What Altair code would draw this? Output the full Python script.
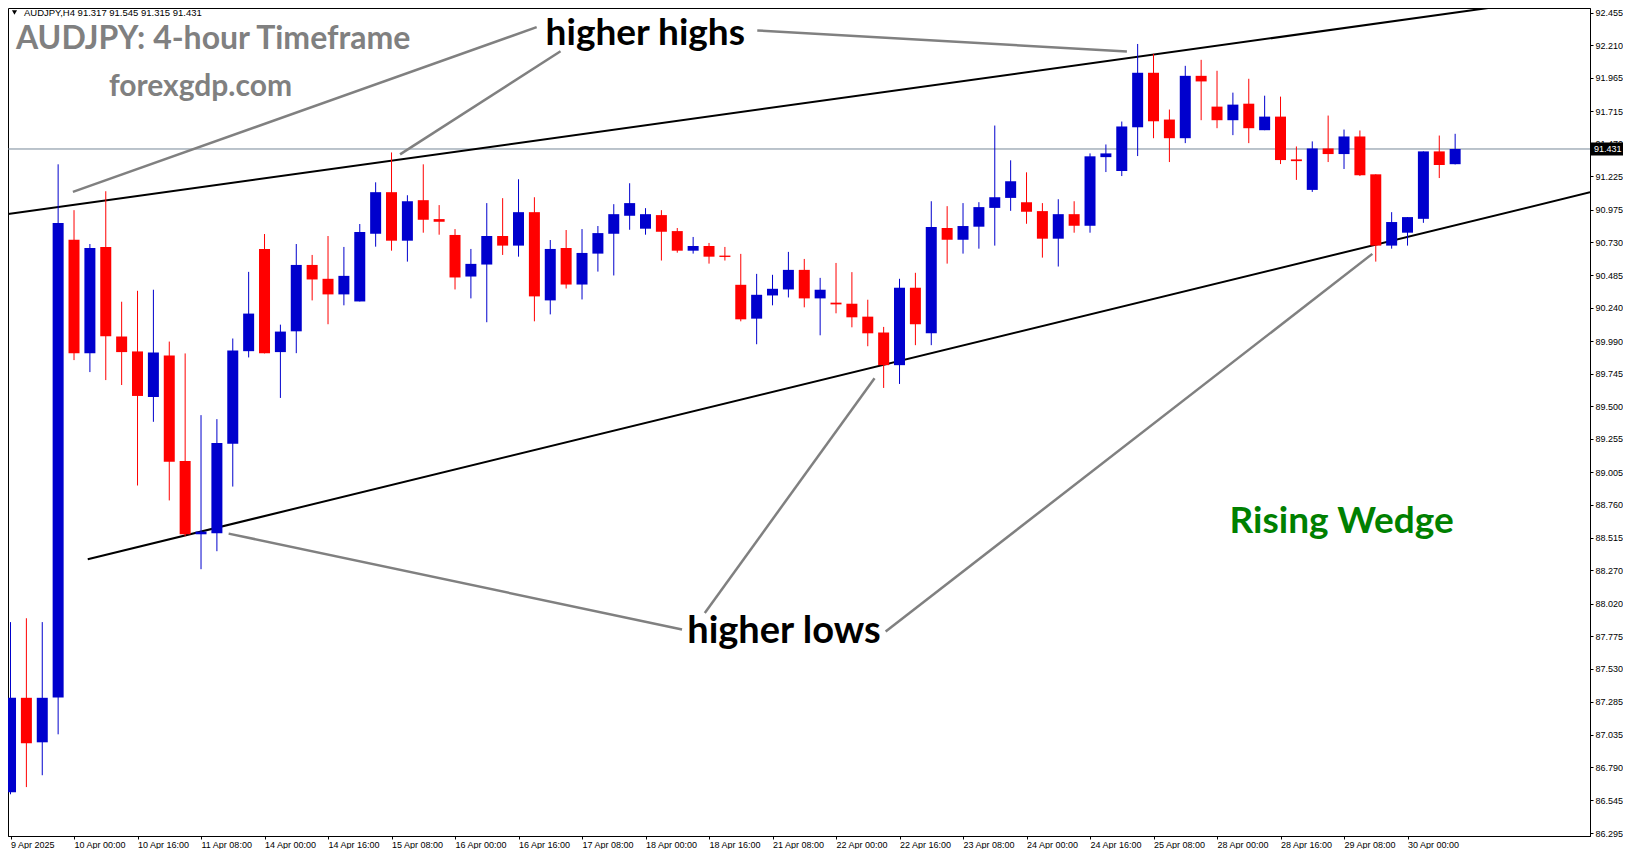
import altair as alt
import pandas as pd

# ---- candle data (AUDJPY H4, 9 Apr 08:00 -> 30 Apr 12:00) ----
opens = [86.604, 87.313, 86.979, 87.315, 90.750, 89.899, 90.696, 90.024, 89.912, 89.570,
         89.882, 89.090, 88.540, 88.547, 89.219, 89.914, 90.681, 89.907, 90.063, 90.561,
         90.457, 90.340, 90.287, 90.795, 91.107, 90.743, 91.047, 90.905, 90.786, 90.474,
         90.564, 90.778, 90.706, 90.957, 90.295, 90.688, 90.414, 90.646, 90.795, 90.930,
         90.833, 90.935, 90.815, 90.668, 90.703, 90.631, 90.412, 90.158, 90.332, 90.377,
         90.524, 90.310, 90.278, 90.270, 90.173, 90.054, 89.809, 90.390, 90.048, 90.838,
         90.750, 90.848, 90.989, 91.064, 91.032, 90.965, 90.758, 90.942, 90.855, 91.370,
         91.266, 91.594, 92.003, 91.652, 91.512, 91.980, 91.749, 91.647, 91.771, 91.572,
         91.674, 91.353, 91.124, 91.435, 91.393, 91.525, 91.241, 90.706, 90.803, 90.907,
         91.413, 91.317]
highs = [87.881, 87.910, 87.881, 91.316, 90.972, 90.718, 91.114, 90.285, 90.367, 90.375,
         89.986, 89.897, 89.434, 89.404, 90.009, 90.509, 90.793, 90.113, 90.718, 90.636,
         90.778, 90.696, 90.868, 91.181, 91.405, 91.084, 91.316, 91.010, 90.830, 90.681,
         91.025, 91.062, 91.204, 91.069, 90.748, 90.823, 90.830, 90.853, 91.017, 91.174,
         90.987, 90.972, 90.838, 90.771, 90.726, 90.696, 90.644, 90.494, 90.487, 90.659,
         90.606, 90.464, 90.576, 90.507, 90.300, 90.096, 90.457, 90.502, 91.039, 91.002,
         91.025, 91.032, 91.607, 91.346, 91.256, 91.025, 91.054, 91.039, 91.398, 91.465,
         91.637, 92.219, 92.145, 91.727, 92.055, 92.100, 92.018, 91.854, 91.958, 91.831,
         91.824, 91.450, 91.488, 91.682, 91.577, 91.570, 91.241, 90.957, 90.920, 91.413,
         91.532, 91.545]
lows = [86.589, 86.643, 86.732, 87.039, 89.847, 89.757, 89.697, 89.660, 88.906, 89.384,
        88.794, 88.526, 88.278, 88.413, 88.898, 89.867, 89.897, 89.563, 89.899, 90.295,
        90.116, 90.258, 90.287, 90.698, 90.668, 90.586, 90.803, 90.788, 90.377, 90.310,
        90.131, 90.636, 90.623, 90.138, 90.190, 90.384, 90.302, 90.511, 90.482, 90.825,
        90.788, 90.594, 90.653, 90.646, 90.571, 90.594, 90.138, 89.966, 90.258, 90.317,
        90.243, 90.033, 90.198, 90.093, 89.951, 89.638, 89.668, 89.959, 89.959, 90.571,
        90.646, 90.683, 90.706, 90.967, 90.870, 90.616, 90.549, 90.803, 90.803, 91.258,
        91.228, 91.378, 91.512, 91.333, 91.475, 91.647, 91.587, 91.535, 91.475, 91.572,
        91.318, 91.199, 91.109, 91.333, 91.281, 91.228, 90.586, 90.683, 90.706, 90.877,
        91.213, 91.315]
closes = [87.313, 86.972, 87.313, 90.875, 89.899, 90.688, 90.026, 89.907, 89.578, 89.904,
          89.085, 88.540, 88.560, 89.225, 89.919, 90.196, 89.899, 90.061, 90.561, 90.452,
          90.340, 90.479, 90.808, 91.107, 90.743, 91.039, 90.900, 90.885, 90.467, 90.569,
          90.778, 90.706, 90.957, 90.325, 90.681, 90.414, 90.651, 90.800, 90.942, 91.025,
          90.942, 90.810, 90.668, 90.703, 90.623, 90.621, 90.153, 90.337, 90.382, 90.524,
          90.310, 90.375, 90.265, 90.168, 90.048, 89.809, 90.390, 90.116, 90.845, 90.750,
          90.853, 90.995, 91.069, 91.189, 90.960, 90.758, 90.942, 90.855, 91.376, 91.398,
          91.600, 92.003, 91.639, 91.512, 91.980, 91.938, 91.647, 91.764, 91.587, 91.674,
          91.348, 91.340, 91.435, 91.393, 91.525, 91.234, 90.706, 90.883, 90.920, 91.413,
          91.311, 91.431]

x_labels = ["9 Apr 2025", "10 Apr 00:00", "10 Apr 16:00", "11 Apr 08:00", "14 Apr 00:00",
            "14 Apr 16:00", "15 Apr 08:00", "16 Apr 00:00", "16 Apr 16:00", "17 Apr 08:00",
            "18 Apr 00:00", "18 Apr 16:00", "21 Apr 08:00", "22 Apr 00:00", "22 Apr 16:00",
            "23 Apr 08:00", "24 Apr 00:00", "24 Apr 16:00", "25 Apr 08:00", "28 Apr 00:00",
            "28 Apr 16:00", "29 Apr 08:00", "30 Apr 00:00"]
x_label_step = 4  # one label every 4 candles
y_ticks = [86.295, 86.545, 86.790, 87.035, 87.285, 87.530, 87.775, 88.020, 88.270, 88.515,
           88.760, 89.005, 89.255, 89.500, 89.745, 89.990, 90.240, 90.485, 90.730, 90.975,
           91.225, 91.470, 91.715, 91.965, 92.210, 92.455]
last_price = 91.431
header = "AUDJPY,H4  91.317 91.545 91.315 91.431"

# trend lines (candle index, price)
upper_x = [-0.156, 97.0]
upper_y = [90.943, 92.554]
lower_x = [4.864, 99.5]
lower_y = [88.353, 91.106]

# annotation pointer segments (candle index, price)
seg_x1 = [3.931, 24.537, 47.039, 13.739, 54.426, 85.785]
seg_y1 = [91.109, 91.391, 92.321, 88.545, 89.711, 90.644]
seg_x2 = [33.144, 34.646, 70.324, 42.301, 43.734, 55.126]
seg_y2 = [92.345, 92.164, 92.162, 87.826, 87.950, 87.810]

# annotation texts (candle index, price at baseline)
ann_text = ["AUDJPY: 4-hour Timeframe", "forexgdp.com", "higher highs", "higher lows", "Rising Wedge"]
ann_x = [0.344, 6.197, 33.707, 42.626, 76.790]
ann_y = [92.185, 91.826, 92.215, 87.724, 88.553]
header_x = 0.845
header_y = 92.455
marker_x = 0.250

# ---------------------------------------------------------------------------
W, H = 1582, 828
PAD_R, PAD_B = 33, 13
BLUE, RED = "#0000CD", "#FF0000"
AXFONT = "Liberation Sans"

n = len(opens)
df = pd.DataFrame({"idx": list(range(n)), "open": opens, "high": highs,
                   "low": lows, "close": closes})
df["dir"] = ["up" if c >= o else "down" for o, c in zip(opens, closes)]

xs = alt.Scale(domain=[0.1565, 99.18], nice=False, zero=False)
ys = alt.Scale(domain=[86.276, 92.489], nice=False, zero=False)

label_arr = "[" + ",".join("'" + s + "'" for s in x_labels) + "]"
x_axis = alt.Axis(values=[i * x_label_step for i in range(len(x_labels))],
                  labelExpr=label_arr + "[round(datum.value/" + str(x_label_step) + ")]",
                  orient="bottom", tickSize=3, tickColor="black", domainColor="black",
                  labelAlign="left", labelBaseline="top", labelPadding=1,
                  labelFont=AXFONT, labelFontSize=9, labelColor="black",
                  labelOverlap=False, labelFlush=False, grid=False, title=None)
y_axis = alt.Axis(values=y_ticks, format=".3f", orient="right", tickSize=3,
                  tickColor="black", domainColor="black", labelAlign="left",
                  labelBaseline="middle", labelPadding=2, labelFont=AXFONT,
                  labelFontSize=9, labelColor="black", labelOverlap=False,
                  labelFlush=False, grid=False, title=None)


def X(f):
    return alt.X(f, type="quantitative", scale=xs, axis=x_axis)


def Y(f):
    return alt.Y(f, type="quantitative", scale=ys, axis=y_axis)


color = alt.Color("dir:N", scale=alt.Scale(domain=["up", "down"], range=[BLUE, RED]), legend=None)

base = alt.Chart(df)
wicks = base.mark_rule(strokeWidth=1, clip=True).encode(x=X("idx"), y=Y("low"), y2="high", color=color)
bodies = base.mark_bar(width=11, clip=True).encode(x=X("idx"), y=Y("open"), y2="close", color=color)

price_df = pd.DataFrame({"x1": [-5.0], "x2": [105.0], "p": [last_price],
                         "t": [f"{last_price:.3f}"]})
price_line = alt.Chart(price_df).mark_rule(color="#778899", strokeWidth=1, clip=True).encode(
    x=X("x1"), x2="x2", y=Y("p"))
price_box = alt.Chart(price_df).mark_rule(color="black", strokeWidth=13).encode(
    x=alt.value(W), x2=alt.value(W + PAD_R), y=Y("p"))
price_txt = alt.Chart(price_df).mark_text(color="white", font=AXFONT, fontSize=9,
                                          align="left", baseline="middle").encode(
    x=alt.value(W + 4), y=Y("p"), text="t:N")

tl_df = pd.DataFrame({"x1": [upper_x[0], lower_x[0]], "x2": [upper_x[1], lower_x[1]],
                      "y1": [upper_y[0], lower_y[0]], "y2": [upper_y[1], lower_y[1]]})
trend = alt.Chart(tl_df).mark_rule(color="black", strokeWidth=2, clip=True).encode(
    x=X("x1"), x2="x2", y=Y("y1"), y2="y2")

seg_df = pd.DataFrame({"x1": seg_x1, "y1": seg_y1, "x2": seg_x2, "y2": seg_y2})
segs = alt.Chart(seg_df).mark_rule(color="#808080", strokeWidth=2.5, clip=True).encode(
    x=X("x1"), x2="x2", y=Y("y1"), y2="y2")

styles = [("#808080", 32), ("#808080", 30), ("black", 37), ("black", 38), ("#008000", 37)]
texts = []
for t, xv, yv, (col, fs) in zip(ann_text, ann_x, ann_y, styles):
    d = pd.DataFrame({"x": [xv], "y": [yv], "t": [t]})
    texts.append(alt.Chart(d).mark_text(font="Lato", fontWeight="bold", fontSize=fs, color=col,
                                        align="left", baseline="alphabetic").encode(
        x=X("x"), y=Y("y"), text="t:N"))

hdr_df = pd.DataFrame({"x": [header_x], "m": [marker_x], "y": [header_y], "t": [header]})
hdr = alt.Chart(hdr_df).mark_text(font=AXFONT, fontSize=9.5, color="black", align="left",
                                  baseline="middle").encode(x=X("x"), y=Y("y"), text="t:N")
marker = alt.Chart(hdr_df).mark_point(shape="triangle-down", filled=True, color="black",
                                      size=26, opacity=1).encode(x=X("m"), y=Y("y"))

chart = alt.layer(price_line, trend, segs, wicks, bodies, price_box, price_txt, hdr, marker,
                  *texts).properties(
    width=W, height=H, background="white",
    autosize=alt.AutoSizeParams(type="none"),
    padding={"left": 0, "top": 0, "right": PAD_R, "bottom": PAD_B},
).configure_view(stroke="black", strokeWidth=1)

chart.save("out.html", embed_options={"renderer": "svg", "actions": False})
